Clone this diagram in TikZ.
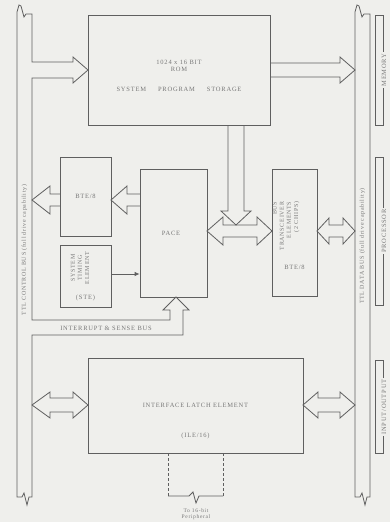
\documentclass[tikz,border=0pt]{standalone}
\usepackage{fontspec}
\setmainfont{Liberation Serif}
\newfontfamily\lsfont[LetterSpace=12]{Liberation Serif}
\usetikzlibrary{arrows.meta}
\definecolor{bg}{RGB}{239,239,236}
\definecolor{ln}{RGB}{95,95,95}
\definecolor{tx}{RGB}{120,120,120}
\begin{document}
\begin{tikzpicture}[x=1pt,y=-1pt,line width=0.8pt,color=ln,line join=miter,
  box/.style={draw=ln,inner sep=0pt},
  lbl/.style={text=tx,font=\lsfont\fontsize{6.5}{7.5}\selectfont,inner sep=0.5pt,align=center},
  slbl/.style={text=tx,font=\lsfont\fontsize{6}{7.2}\selectfont,inner sep=0.5pt,align=center},
  brk/.style={lbl,rotate=90,fill=bg,inner sep=1.5pt}]
\fill[bg] (0,0) rectangle (390,522);
\useasboundingbox (0,0) rectangle (390,522);

% boxes
\node[box,minimum width=182pt,minimum height=110pt] (rom) at (179,70) {};
\node[box,minimum width=51pt,minimum height=79pt] (bte) at (85.5,196.5) {};
\node[box,minimum width=67pt,minimum height=128pt] (pace) at (173.5,233) {};
\node[box,minimum width=51pt,minimum height=62pt] (ste) at (85.5,276) {};
\node[box,minimum width=45pt,minimum height=127pt] (btr) at (294.5,232.5) {};
\node[box,minimum width=215pt,minimum height=95pt] (ile) at (195.5,405.5) {};

% texts
\node[lbl] (romt1) at (179,66) {1024 x 16 BIT\\[-1pt]ROM};
\node[lbl] (romt2) at (179,89) {SYSTEM\hspace{12pt}PROGRAM\hspace{12pt}STORAGE};
\node[lbl] (btet) at (bte) {BTE/8};
\node[lbl] (pacet) at (171,233) {PACE};
\node[slbl,rotate=90] (stet) at (80,268) {SYSTEM\\TIMING\\ELEMENT};
\node[lbl] (stet2) at (85.5,298) {(STE)};
\node[slbl,rotate=90,align=right] (btrt) at (286,226) {BUS\\TRANSCEIVER\\ELEMENTS\\(2 CHIPS)};
\node[lbl] (btrt2) at (294.5,267) {BTE/8};
\node[lbl] (ilet1) at (195.5,405) {INTERFACE LATCH ELEMENT};
\node[lbl] (ilet2) at (195.5,436) {(ILE/16)};
\node[lbl] (intt) at (106,328) {INTERRUPT \& SENSE BUS};
\node[slbl,rotate=90] (cbus) at (24.5,250) {TTL CONTROL BUS (full drive capability)};
\node[slbl,rotate=90] (dbus) at (362.5,246) {TTL DATA BUS (full drive capability)};
\node[slbl,font=\lsfont\fontsize{5.5}{6.5}\selectfont] (per) at (196,514) {To 16-bit\\Peripheral};

% left control bus with ROM arrow and interrupt bus
\draw (73,62) -- (32,62) -- (32,14) -- (26,14) -- (24,17) -- (21,6) -- (19,5) -- (17,12)
  -- (17,497) -- (22,497) -- (24,493) -- (27,505) -- (29,497) -- (32,497)
  -- (32,335) -- (183,335) -- (183,310) -- (189,310) -- (176,297) -- (163,310)
  -- (170,310) -- (170,320) -- (32,320) -- (32,78) -- (73,78) -- (73,83)
  -- (88,70) -- (73,57) -- cycle;

% right data bus
\draw (355,12) -- (357,5) -- (359,6) -- (362,17) -- (364,14) -- (370,14)
  -- (370,497) -- (367,497) -- (365,505) -- (362,493) -- (360,497) -- (355,497) -- cycle;

% ROM to data bus
\draw (rom.east |- 0,63) -- (340,63) -- (340,57) -- (355,70) -- (340,83) -- (340,77) -- (rom.east |- 0,77);
% ROM down to transceiver link
\draw (228,125) -- (228,211) -- (221,211) -- (236,225) -- (251,211) -- (244,211) -- (244,125);
% PACE <-> transceiver
\draw (207,231) -- (223,217) -- (223,225) -- (257,225) -- (257,217) -- (272,231)
  -- (257,245) -- (257,237) -- (223,237) -- (223,245) -- cycle;
% transceiver <-> data bus
\draw (317,231) -- (329,218) -- (329,225) -- (343,225) -- (343,218) -- (355,231)
  -- (343,244) -- (343,237) -- (329,237) -- (329,244) -- cycle;
% PACE -> BTE/8
\draw (140,194) -- (127,194) -- (127,186) -- (111,200) -- (127,214) -- (127,206) -- (140,206);
% BTE/8 -> control bus
\draw (60,194) -- (50,194) -- (50,186) -- (32,200) -- (50,214) -- (50,206) -- (60,206);
% STE -> PACE
\draw[-{Latex[length=5pt,width=4.5pt]}] ([yshift=2pt]ste.east) -- ([yshift=2pt]ste.east -| pace.west);
% control bus <-> ILE
\draw (32,405) -- (50,392) -- (50,398) -- (73,398) -- (73,392) -- (88,405)
  -- (73,418) -- (73,412) -- (50,412) -- (50,418) -- cycle;
% ILE <-> data bus
\draw (303,405) -- (318,392) -- (318,398) -- (340,398) -- (340,392) -- (355,405)
  -- (340,418) -- (340,412) -- (318,412) -- (318,418) -- cycle;

% dashed peripheral connection
\draw[dash pattern=on 3pt off 2pt] (168,453) -- (168,496);
\draw[dash pattern=on 3pt off 2pt] (223,453) -- (223,496);
\draw (168,496) -- (189,496) -- (193,492) -- (196,503) -- (199,496) -- (223,496);

% brackets
\draw (383,15) -- (375,15) -- (375,125) -- (383,125) -- cycle;
\node[brk] (mem) at (384,70) {MEMORY};
\draw (383,157) -- (375,157) -- (375,305) -- (383,305) -- cycle;
\node[brk] (proc) at (384,231) {PROCESSOR};
\draw (383,360) -- (375,360) -- (375,453) -- (383,453) -- cycle;
\node[brk] (io) at (384,407) {INPUT/OUTPUT};
\end{tikzpicture}
\end{document}
